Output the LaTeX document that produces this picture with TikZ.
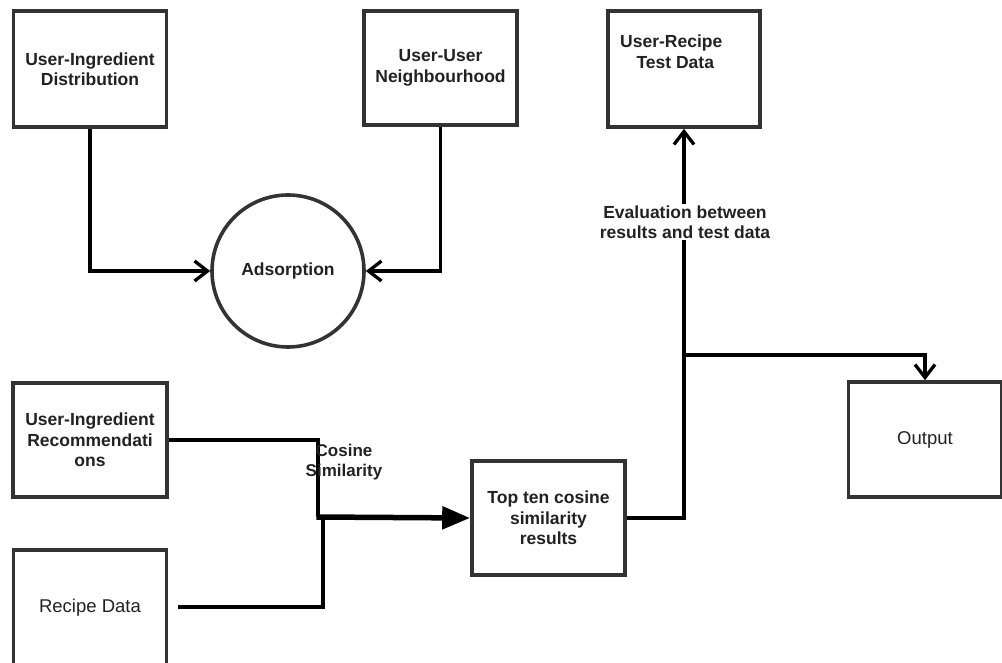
\documentclass[tikz,border=0pt]{standalone}
\usepackage{fontspec}
\setmainfont{Liberation Sans}
\usetikzlibrary{arrows.meta}
\definecolor{boxline}{HTML}{333333}
\definecolor{txt}{HTML}{222222}
\begin{document}
\begin{tikzpicture}[x=1pt,y=-1pt,
  box/.style={draw=boxline,line width=3.6pt,fill=white,rectangle,
    minimum width=#1,inner sep=0pt,align=center,text=txt,
    font=\bfseries\fontsize{17.5}{20.5}\selectfont},
  box/.default=153pt,
  plainbox/.style={box,font=\fontsize{18.5}{21}\selectfont},
  conn/.style={draw=black,line width=3.3pt},
  barb/.style={-{Straight Barb[length=13pt,width=20pt]}},
  lbl/.style={text=txt,align=center,inner sep=1pt,
    font=\bfseries\fontsize{17.5}{20.5}\selectfont}]
\useasboundingbox (0,0) rectangle (1002,663);

% upper row of sources
\node[box,minimum height=116pt] (uid) at (90,69) {User-Ingredient\\Distribution};
\node[box,minimum height=114pt] (uun) at (440.5,68) {User-User\\Neighbourhood};
\node[box=152pt,minimum height=116pt] (urtd) at (684,69) {};
\node[lbl,anchor=north west] (urtdtext) at (619,34) {User-Recipe\\[0pt]\hspace*{8pt}Test Data};
\node[draw=boxline,line width=3.6pt,circle,minimum size=152pt,inner sep=0pt,
  text=txt,font=\bfseries\fontsize{17.5}{20}\selectfont] (ads) at (288,271) {Adsorption};

% lower row
\node[box=154pt,minimum height=114pt] (uir) at (90,440) {User-Ingredient\\Recommendati\\ons};
\node[plainbox=154pt,minimum height=116pt] (recipe) at (90,608) {Recipe Data};
\node[box,minimum height=114pt] (topten) at (548.5,518) {Top ten cosine\\similarity\\results};
\node[plainbox=150pt,minimum height=115pt] (out) at (925,439.5) {Output};

% junction points
\coordinate (merge) at (320,517);
\coordinate (rstart) at (178,607);
\coordinate (split) at (685,355);

% connectors into the adsorption step
\draw[conn,barb] (uid.south) |- (ads.west);
\draw[conn,barb] (uun.south) |- (ads.east);

% cosine similarity merge
\draw[conn] (uir.east) -| ([xshift=-2pt]merge);
\draw[conn] (rstart) -| ([xshift=3pt]merge);
\draw[draw=black,line width=5.5pt,-{Triangle[length=28pt,width=22pt]}]
  ([xshift=-3.5pt]merge) -- (topten.west);
\node[lbl,font=\bfseries\fontsize{17}{20.5}\selectfont] (cos) at (344,462) {Cosine\\Similarity};

% evaluation and output
\draw[conn,barb] (topten.east) -| (urtd.south);
\draw[conn,barb] (split) -| (out.north);
\node[lbl,fill=white] (eval) at (685,222) {Evaluation between\\results and test data};
\end{tikzpicture}
\end{document}
